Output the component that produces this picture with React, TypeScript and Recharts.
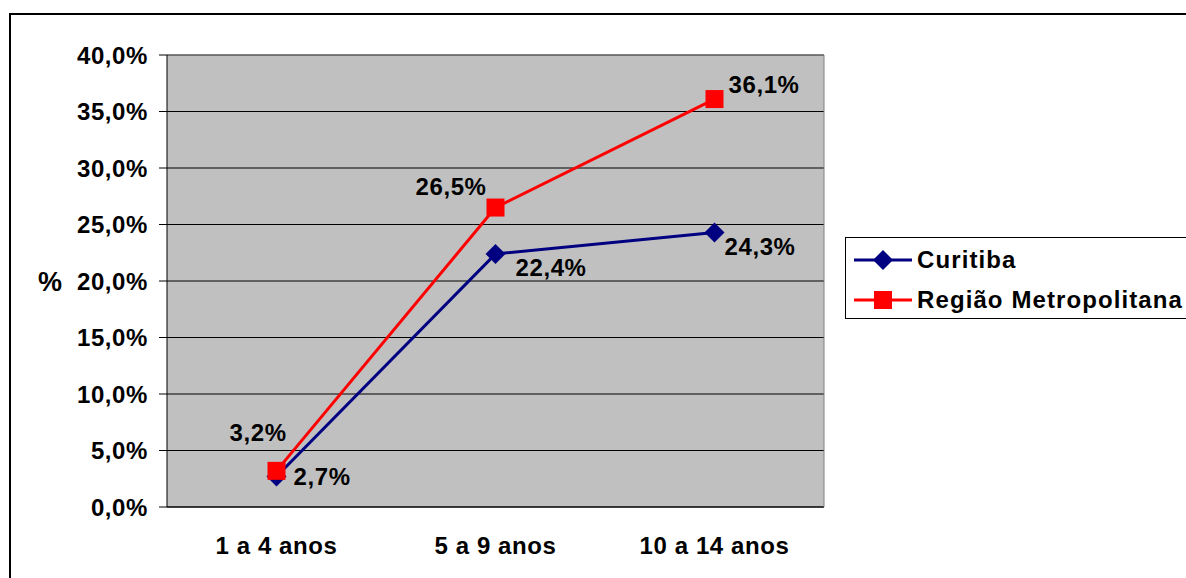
import { LineChart, Line, XAxis, YAxis, CartesianGrid, LabelList } from "recharts"

const categories = ["1 a 4 anos", "5 a 9 anos", "10 a 14 anos"]
const curitiba = [2.7, 22.4, 24.3]
const regiaoMetropolitana = [3.2, 26.5, 36.1]
const yTicks = [0, 5, 10, 15, 20, 25, 30, 35, 40]
const seriesNames = ["Curitiba", "Região Metropolitana"]

const data = categories.map((c, i) => ({
  faixa: c,
  curitiba: curitiba[i],
  rm: regiaoMetropolitana[i],
}))

// where each value label sits relative to its point
const curitibaLabelOffset = [
  { dx: 17, dy: 0 },
  { dx: 20, dy: 14 },
  { dx: 10, dy: 14 },
]
const rmLabelOffset = [
  { dx: -47, dy: -38 },
  { dx: -80, dy: -21 },
  { dx: 14, dy: -15 },
]

const FONT = "'Liberation Sans', Arial, sans-serif"
const NAVY = "#000080"
const RED = "#FF0000"
const TXT = { fontFamily: FONT, fontWeight: 700, fontSize: 24, letterSpacing: 0.6, fill: "#000" }
// axes of (almost) zero thickness, recharts skips drawing an axis of size 0
const THIN = 0.001

const pct = (v: number) => v.toFixed(1).replace(".", ",") + "%"

function Diamond(p: any) {
  const { cx, cy, index } = p
  const r = 10
  return (
    <polygon
      key={"d" + index}
      points={`${cx},${cy - r} ${cx + r},${cy} ${cx},${cy + r} ${cx - r},${cy}`}
      fill={NAVY}
    />
  )
}

function Square(p: any) {
  const { cx, cy, index } = p
  const s = 9
  return <rect key={"s" + index} x={cx - s} y={cy - s} width={s * 2} height={s * 2} fill={RED} />
}

const makeLabel = (offsets: { dx: number; dy: number }[]) => (p: any) => {
  const o = offsets[p.index] || { dx: 0, dy: 0 }
  return (
    <text key={"l" + p.index} x={p.x + o.dx} y={p.y + o.dy} dominantBaseline="central" {...TXT}>
      {pct(Number(p.value))}
    </text>
  )
}

export default function App() {
  return (
    <div style={{ position: "absolute", left: 0, top: 0, width: 1186, height: 578, overflow: "hidden", background: "#fff" }}>
      <div style={{ position: "absolute", left: 9, top: 13, width: 1200, height: 600, border: "2px solid #000" }} />
      <div style={{ position: "absolute", left: 0, top: 0 }}>
        <LineChart width={1186} height={578} data={data} margin={{ top: 55 - THIN, right: 362 - THIN, bottom: 71 - 2 * THIN, left: 0 }}>
          <CartesianGrid fill="#C0C0C0" stroke="#000" vertical={false} horizontalValues={yTicks} strokeOpacity={1} />
          <XAxis
            dataKey="faixa"
            height={THIN}
            padding={{ left: 109.5, right: 109.5 }}
            tickLine={false}
            axisLine={false}
            tickSize={0}
            tickMargin={30}
            tick={TXT}
            interval={0}
          />
          <XAxis
            xAxisId="edge"
            type="number"
            domain={[0, 3]}
            ticks={[0, 1, 2, 3]}
            height={THIN}
            tick={false}
            tickSize={8}
            tickLine={{ stroke: "#000" }}
            axisLine={{ stroke: "#000" }}
          />
          <XAxis
            xAxisId="top"
            orientation="top"
            type="number"
            domain={[0, 3]}
            height={THIN}
            tick={false}
            tickLine={false}
            axisLine={{ stroke: "#808080" }}
          />
          <YAxis
            width={167}
            domain={[0, 40]}
            ticks={yTicks}
            tickFormatter={pct}
            tickSize={8}
            tickMargin={11}
            tick={TXT}
            tickLine={{ stroke: "#000" }}
            axisLine={{ stroke: "#000" }}
            label={{ value: "%", position: "insideLeft", offset: 38, ...TXT, fontSize: 27 }}
          />
          <YAxis
            yAxisId="right"
            orientation="right"
            width={THIN}
            domain={[0, 40]}
            tick={false}
            tickLine={false}
            axisLine={{ stroke: "#808080" }}
          />
          <Line
            dataKey="curitiba"
            name={seriesNames[0]}
            stroke={NAVY}
            strokeWidth={3}
            dot={Diamond}
            isAnimationActive={false}
          >
            <LabelList dataKey="curitiba" content={makeLabel(curitibaLabelOffset)} />
          </Line>
          <Line
            dataKey="rm"
            name={seriesNames[1]}
            stroke={RED}
            strokeWidth={3}
            dot={Square}
            isAnimationActive={false}
          >
            <LabelList dataKey="rm" content={makeLabel(rmLabelOffset)} />
          </Line>
        </LineChart>
      </div>
      <div
        style={{
          position: "absolute",
          left: 845,
          top: 237,
          width: 360,
          height: 82,
          border: "1px solid #000",
          background: "#fff",
          boxSizing: "border-box",
        }}
      >
        {seriesNames.map((name, i) => (
          <div key={name} style={{ position: "absolute", left: 7, top: 8 + i * 40, height: 28, display: "flex", alignItems: "center" }}>
            <svg width={60} height={24}>
              <line x1={1} y1={12} x2={59} y2={12} stroke={i === 0 ? NAVY : RED} strokeWidth={3} />
              {i === 0 ? (
                <polygon points="30,2 40,12 30,22 20,12" fill={NAVY} />
              ) : (
                <rect x={21} y={3} width={18} height={18} fill={RED} />
              )}
            </svg>
            <span style={{ marginLeft: 4, fontFamily: FONT, fontWeight: 700, fontSize: 24, letterSpacing: 1.1, color: "#000", whiteSpace: "nowrap" }}>
              {name}
            </span>
          </div>
        ))}
      </div>
    </div>
  )
}
